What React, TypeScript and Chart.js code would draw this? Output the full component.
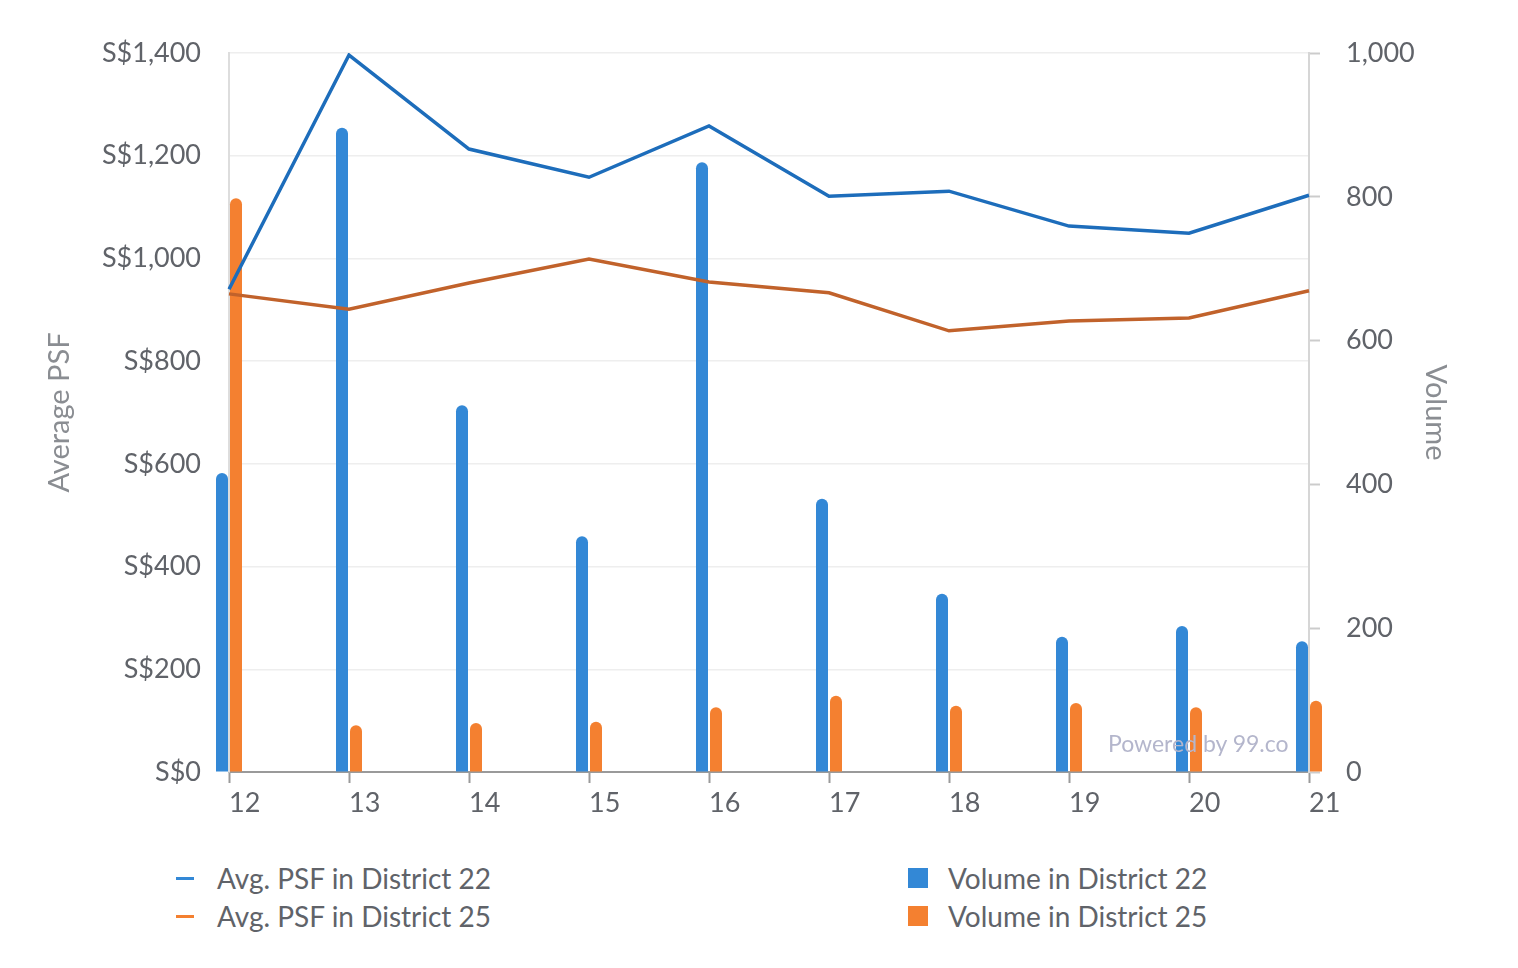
import React, { useEffect, useRef } from "react";
import { Chart, registerables } from "chart.js";

Chart.register(...registerables);

const labels = ["12", "13", "14", "15", "16", "17", "18", "19", "20", "21"];
const psfD22 = [940, 1396, 1213, 1158, 1258, 1121, 1131, 1063, 1049, 1123];
const psfD25 = [931, 901, 952, 999, 954, 933, 859, 878, 884, 937];
const volD22 = [416, 896, 510, 328, 848, 380, 248, 188, 203, 182];
const volD25 = [798, 65, 68, 70, 90, 106, 92, 96, 90, 99];

const FONT = "Lato";
const TEXT = "#606369";
const BLUE_BAR = "#3388d6";
const ORANGE_BAR = "#f48030";
const BLUE_LINE = "#1d6dbb";
const ORANGE_LINE = "#c1622b";

const W = 1502;
const H = 820;

export default function App() {
  const ref = useRef<HTMLCanvasElement | null>(null);

  useEffect(() => {
    if (!ref.current) return;
    const chart = new Chart(ref.current, {
      type: "bar",
      data: {
        labels,
        datasets: [
          {
            type: "line",
            label: "Avg. PSF in District 22",
            data: psfD22,
            borderColor: BLUE_LINE,
            backgroundColor: BLUE_LINE,
            borderWidth: 3.5,
            pointRadius: 0,
            tension: 0,
            yAxisID: "y",
            order: 0,
          },
          {
            type: "line",
            label: "Avg. PSF in District 25",
            data: psfD25,
            borderColor: ORANGE_LINE,
            backgroundColor: ORANGE_LINE,
            borderWidth: 3.5,
            pointRadius: 0,
            tension: 0,
            yAxisID: "y",
            order: 0,
          },
          {
            type: "bar",
            label: "Volume in District 22",
            data: volD22,
            backgroundColor: BLUE_BAR,
            borderRadius: { topLeft: 6, topRight: 6, bottomLeft: 0, bottomRight: 0 },
            borderSkipped: false,
            yAxisID: "y1",
            clip: false,
            order: 1,
          },
          {
            type: "bar",
            label: "Volume in District 25",
            data: volD25,
            backgroundColor: ORANGE_BAR,
            borderRadius: { topLeft: 6, topRight: 6, bottomLeft: 0, bottomRight: 0 },
            borderSkipped: false,
            yAxisID: "y1",
            clip: false,
            order: 1,
          },
        ] as any,
      },
      options: {
        responsive: false,
        animation: false,
        maintainAspectRatio: false,
        layout: { padding: { top: 45, left: 0, right: 0, bottom: 0 } },
        datasets: {
          bar: { categoryPercentage: 28 / 120, barPercentage: 12 / 14 },
        } as any,
        plugins: {
          legend: { display: false },
          tooltip: { enabled: false },
        },
        scales: {
          x: {
            type: "category",
            offset: false,
            grid: {
              offset: false,
              drawOnChartArea: false,
              drawTicks: true,
              tickLength: 11,
              tickWidth: 2,
              tickColor: "#9a9a9a",
              color: "#9a9a9a",
            },
            border: { color: "#9a9a9a", width: 2 },
            ticks: {
              align: "start",
              padding: 4,
              color: TEXT,
              font: { family: FONT, size: 27 },
              maxRotation: 0,
              autoSkip: false,
            },
            afterFit: (s: any) => {
              s.height = 56;
            },
          } as any,
          y: {
            type: "linear",
            position: "left",
            min: 0,
            max: 1400,
            grid: { color: "#eeeeee", lineWidth: 1.5, drawTicks: false },
            border: { color: "#dddddd", width: 2 },
            ticks: {
              stepSize: 200,
              padding: 28,
              color: TEXT,
              font: { family: FONT, size: 27 },
              callback: (v: any) => "S$" + Number(v).toLocaleString("en-US"),
            },
            title: {
              display: true,
              text: "Average PSF",
              color: "#8a8d92",
              font: { family: FONT, size: 29 },
              padding: { top: 34, bottom: 0 },
            },
            afterFit: (s: any) => {
              s.width = 221;
            },
          } as any,
          y1: {
            type: "linear",
            position: "right",
            min: 0,
            max: 1000,
            grid: {
              drawOnChartArea: false,
              drawTicks: true,
              tickLength: 11,
              tickWidth: 2,
              tickColor: "#cccccc",
            },
            border: { color: "#d6d6d6", width: 2 },
            ticks: {
              stepSize: 200,
              padding: 26,
              color: TEXT,
              font: { family: FONT, size: 27 },
              callback: (v: any) => Number(v).toLocaleString("en-US"),
            },
            title: {
              display: true,
              text: "Volume",
              color: "#8a8d92",
              font: { family: FONT, size: 29 },
              padding: { top: 57, bottom: 0 },
            },
            afterFit: (s: any) => {
              s.width = 201;
            },
          } as any,
        },
      },
    });
    return () => chart.destroy();
  }, []);

  const legendText: React.CSSProperties = {
    fontFamily: FONT,
    fontSize: 28,
    color: TEXT,
    whiteSpace: "nowrap",
    lineHeight: "38px",
    display: "flex",
    alignItems: "center",
  };
  const lineMark = (c: string): React.CSSProperties => ({
    display: "inline-block",
    width: 18,
    height: 3,
    background: c,
    marginRight: 23,
  });
  const boxMark = (c: string): React.CSSProperties => ({
    display: "inline-block",
    width: 20,
    height: 20,
    background: c,
    marginRight: 20,
  });

  return (
    <div style={{ position: "relative", width: W, height: 940 }}>
      <canvas ref={ref} width={W} height={H} style={{ display: "block" }} />
      <div
        style={{
          position: "absolute",
          left: 1100,
          top: 721,
          fontFamily: FONT,
          fontSize: 23,
          color: "#b4b6cc",
          pointerEvents: "none",
          whiteSpace: "nowrap",
        }}
      >
        Powered by 99.co
      </div>
      <div style={{ position: "absolute", left: 168, top: 851 }}>
        <div style={legendText}>
          <span style={lineMark(BLUE_BAR)} />
          Avg. PSF in District 22
        </div>
        <div style={legendText}>
          <span style={lineMark(ORANGE_BAR)} />
          Avg. PSF in District 25
        </div>
      </div>
      <div style={{ position: "absolute", left: 900, top: 851 }}>
        <div style={legendText}>
          <span style={boxMark(BLUE_BAR)} />
          Volume in District 22
        </div>
        <div style={legendText}>
          <span style={boxMark(ORANGE_BAR)} />
          Volume in District 25
        </div>
      </div>
    </div>
  );
}
